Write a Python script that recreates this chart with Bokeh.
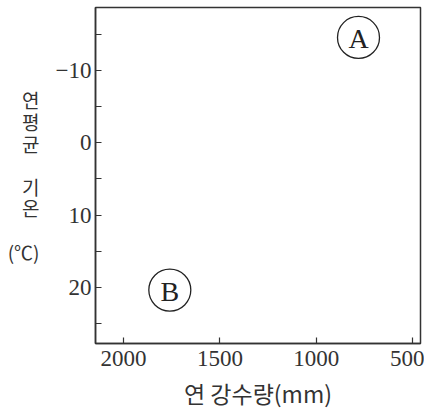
from bokeh.plotting import figure
from bokeh.models import Range1d, FixedTicker
from bokeh.core.properties import value
from bokeh.embed import file_html
from bokeh.resources import INLINE

# data
names = ["A", "B"]
precip = [780, 1760]      # annual precipitation (mm)
temp = [-14.6, 20.4]      # annual mean temperature (°C)
x_ticks = [2000, 1500, 1000, 500]
y_ticks = [-10, 0, 10, 20]
y_minor = [-15, -5, 5, 15, 25]
x_lo, x_hi = 2146, 458
y_lo, y_hi = 27.8, -18.75
x_title = "연 강수량(mm)"
y_title = "연\n평\n균\n\n기\n온\n\n(℃)"

INK = "#333333"
SERIF = "Liberation Serif"
KR = "Noto Sans CJK KR"

p = figure(width=424, height=413, x_range=Range1d(x_lo, x_hi), y_range=Range1d(y_lo, y_hi),
           output_backend="svg", toolbar_location=None,
           min_border_left=95, min_border_right=4, min_border_top=7, min_border_bottom=70)
p.grid.visible = False
p.outline_line_color = INK
p.outline_line_width = 1.5
p.background_fill_color = "white"
p.border_fill_color = "white"

xa = p.xaxis[0]
xa.ticker = FixedTicker(ticks=x_ticks, minor_ticks=[])
ya = p.yaxis[0]
ya.ticker = FixedTicker(ticks=y_ticks, minor_ticks=y_minor)
for ax in (xa, ya):
    ax.axis_line_color = INK
    ax.axis_line_width = 1.5
    ax.major_tick_in = 6
    ax.major_tick_out = 0
    ax.minor_tick_in = 6
    ax.minor_tick_out = 0
    ax.major_tick_line_color = INK
    ax.minor_tick_line_color = INK
    ax.major_tick_line_width = 1.2
    ax.minor_tick_line_width = 1.2
    ax.major_label_text_font = SERIF
    ax.major_label_text_font_size = "23px"
    ax.major_label_text_color = INK
    ax.axis_label_text_font = KR
    ax.axis_label_text_font_style = "normal"
    ax.axis_label_text_color = INK
xa.major_label_standoff = 7
ya.major_label_standoff = 4

xa.axis_label = x_title
xa.axis_label_text_font_size = "23px"
xa.axis_label_standoff = 7

ya.axis_label = y_title
ya.axis_label_orientation = "horizontal"
ya.axis_label_text_font_size = "19px"
ya.axis_label_text_line_height = 0.8
ya.axis_label_standoff = 13

p.scatter(precip, temp, size=42, fill_color=None, line_color="#222222", line_width=1.3)
p.text(precip, temp, text=names, text_align="center", text_baseline="middle",
       text_font=value(SERIF), text_font_size="28px", text_color="#222222", y_offset=1)

open("out.html", "w").write(file_html(p, INLINE))
